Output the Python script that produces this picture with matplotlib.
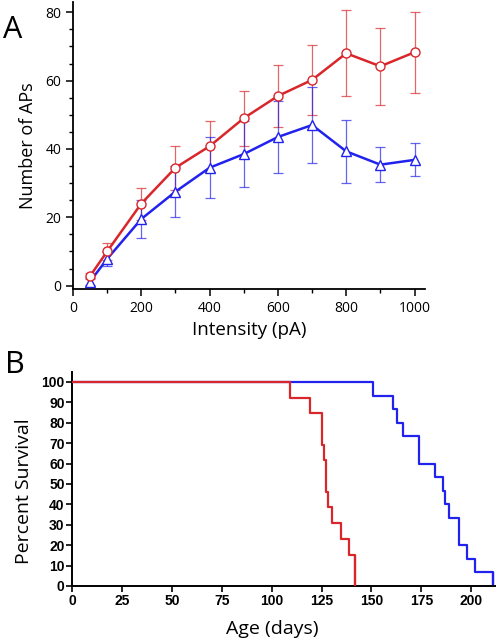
import numpy as np
import matplotlib
matplotlib.use("Agg")
import matplotlib.pyplot as plt
from matplotlib.ticker import MultipleLocator

# panel A: number of APs vs injected current
intensity = [50, 100, 200, 300, 400, 500, 600, 700, 800, 900, 1000]
red_aps = [2.8, 10.0, 24.0, 34.5, 40.8, 49.0, 55.5, 60.2, 68.0, 64.2, 68.3]
red_err = [1.0, 2.6, 4.7, 6.4, 7.4, 8.0, 9.0, 10.3, 12.6, 11.3, 11.8]
blue_aps = [1.2, 7.8, 19.5, 27.5, 34.5, 38.5, 43.5, 47.0, 39.3, 35.4, 36.8]
blue_err = [1.0, 2.0, 5.5, 7.5, 9.0, 9.7, 10.4, 11.0, 9.2, 5.2, 4.8]

# panel B: Kaplan-Meier steps (day of drop, survival after drop)
red_days = [0, 109, 119, 125, 126, 127, 128, 130, 135, 139, 142]
red_surv = [100, 92.3, 84.6, 69.2, 61.5, 46.2, 38.5, 30.8, 23.1, 15.4, 0]
blue_days = [0, 151, 161, 163, 166, 174, 182, 186, 187, 189, 194, 198, 202, 211]
blue_surv = [100, 93.3, 86.7, 80, 73.3, 60, 53.3, 46.7, 40, 33.3, 20, 13.3, 6.7, 0]

RED = '#d8262b'
BLUE = '#2222ee'

fig = plt.figure(figsize=(5.04, 6.4), dpi=100)

# ---- panel A
ax1 = fig.add_axes([0.1448, 0.5484, 0.698, 0.4484])
ax1.errorbar(intensity, red_aps, yerr=red_err, fmt='none', ecolor=RED,
             alpha=0.7, elinewidth=0.9, capsize=3.5, capthick=0.9, zorder=2)
ax1.errorbar(intensity, blue_aps, yerr=blue_err, fmt='none', ecolor=BLUE,
             alpha=0.7, elinewidth=0.9, capsize=3.5, capthick=0.9, zorder=2)
ax1.plot(intensity, blue_aps, '-^', color=BLUE, lw=1.8, ms=7,
         mfc='white', mec=BLUE, mew=1.0, zorder=3)
ax1.plot(intensity, red_aps, '-o', color=RED, lw=1.8, ms=6.5,
         mfc='white', mec=RED, mew=1.0, zorder=4)
ax1.set_xlim(0, 1030)
ax1.set_ylim(-1, 83)
ax1.set_xticks([0, 200, 400, 600, 800, 1000])
ax1.set_yticks([0, 20, 40, 60, 80])
ax1.xaxis.set_minor_locator(MultipleLocator(100))
ax1.yaxis.set_minor_locator(MultipleLocator(5))
for s in ['top', 'right']:
    ax1.spines[s].set_visible(False)
for s in ['left', 'bottom']:
    ax1.spines[s].set_linewidth(1.3)
ax1.tick_params(which='major', length=5, width=1.1, labelsize=10)
ax1.tick_params(which='minor', length=3, width=1.0)
for lab in ax1.get_xticklabels() + ax1.get_yticklabels():
    lab.set_family('Open Sans')
ax1.set_xlabel('Intensity (pA)', fontsize=13.5, family='Open Sans', labelpad=4)
ax1.set_ylabel('Number of APs', fontsize=13, family='Open Sans', labelpad=6)
fig.text(0.005, 0.953, 'A', fontsize=22, family='Open Sans', va='center')

# ---- panel B
ax2 = fig.add_axes([0.1435, 0.0844, 0.8387, 0.3348])
ax2.step(blue_days, blue_surv, where='post', color=BLUE, lw=1.6, zorder=2)
ax2.step(red_days, red_surv, where='post', color=RED, lw=1.6, zorder=3)
ax2.vlines(blue_days[-1], 0, blue_surv[-2], color=BLUE, lw=1.6)
ax2.vlines(red_days[-1], 0, red_surv[-2], color=RED, lw=1.6)
ax2.set_xlim(0, 212)
ax2.set_ylim(0, 105)
ax2.set_xticks(np.arange(0, 201, 25))
ax2.set_yticks(np.arange(0, 101, 10))
for s in ['top', 'right']:
    ax2.spines[s].set_visible(False)
for s in ['left', 'bottom']:
    ax2.spines[s].set_linewidth(1.4)
ax2.tick_params(length=4, width=1.2, labelsize=10, pad=1.5)
for lab in ax2.get_xticklabels() + ax2.get_yticklabels():
    lab.set_family('Liberation Sans')
    lab.set_fontweight('bold')
ax2.set_xlabel('Age (days)', fontsize=14, family='Open Sans')
ax2.set_ylabel('Percent Survival', fontsize=14, family='Open Sans')
ax2.xaxis.set_label_coords(0.472, -0.158)
ax2.yaxis.set_label_coords(-0.093, 0.443)
fig.text(0.01, 0.43, 'B', fontsize=22, family='Open Sans', va='center')

fig.savefig('out.png', dpi=100)
